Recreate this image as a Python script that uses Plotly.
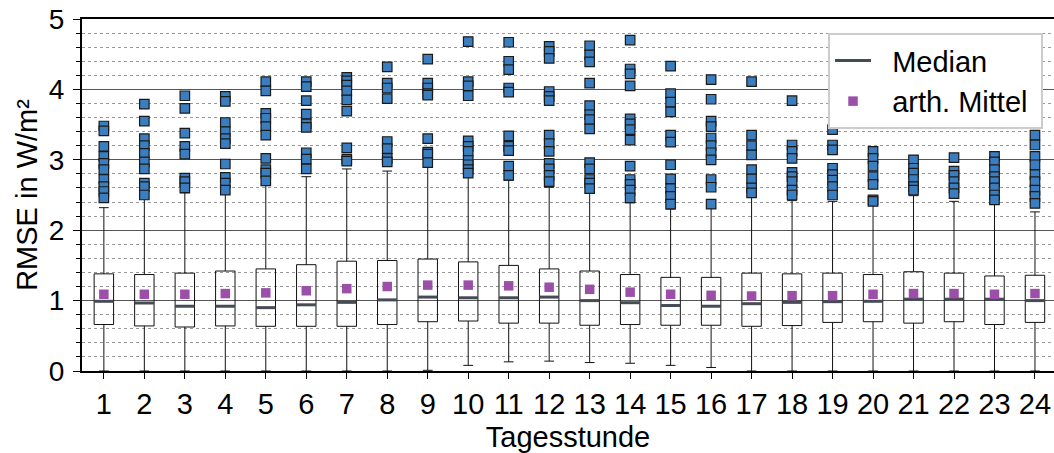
import plotly.graph_objects as go

hours = list(range(1, 25))
q1 = [0.66, 0.64, 0.625, 0.64, 0.635, 0.635, 0.635, 0.66, 0.70, 0.71, 0.68, 0.68,
      0.65, 0.66, 0.65, 0.65, 0.635, 0.645, 0.69, 0.70, 0.68, 0.70, 0.66, 0.69]
median = [0.99, 0.966, 0.92, 0.92, 0.90, 0.94, 0.975, 1.01, 1.05, 1.04, 1.04, 1.05,
          1.00, 0.97, 0.93, 0.92, 0.956, 0.975, 0.985, 0.99, 1.02, 1.02, 1.02, 1.00]
q3 = [1.38, 1.37, 1.39, 1.42, 1.45, 1.51, 1.56, 1.57, 1.59, 1.55, 1.50, 1.45,
      1.42, 1.37, 1.33, 1.33, 1.39, 1.38, 1.39, 1.37, 1.41, 1.39, 1.35, 1.36]
mean = [1.09, 1.09, 1.09, 1.10, 1.11, 1.14, 1.17, 1.20, 1.22, 1.22, 1.21, 1.19,
        1.16, 1.12, 1.09, 1.075, 1.065, 1.07, 1.07, 1.09, 1.10, 1.10, 1.09, 1.10]
lower_whisker = [0.0, 0.0, 0.0, 0.0, 0.0, 0.0, 0.0, 0.0, 0.01, 0.08, 0.13, 0.14,
                 0.12, 0.11, 0.08, 0.05, 0.0, 0.0, 0.0, 0.0, 0.0, 0.0, 0.0, 0.0]
upper_whisker = [2.32, 2.45, 2.53, 2.54, 2.65, 2.76, 2.87, 2.84, 2.93, 2.77, 2.71, 2.61,
                 2.54, 2.39, 2.30, 2.34, 2.48, 2.42, 2.41, 2.35, 2.49, 2.41, 2.38, 2.26]
outliers = [
    [3.48, 3.41, 3.19, 3.05, 2.95, 2.86, 2.72, 2.62, 2.55, 2.46],
    [3.79, 3.55, 3.30, 3.20, 3.09, 2.97, 2.87, 2.67, 2.62, 2.50],
    [3.91, 3.73, 3.38, 3.19, 3.08, 2.74, 2.69, 2.60],
    [3.90, 3.83, 3.53, 3.40, 3.30, 3.23, 2.94, 2.75, 2.67, 2.57],
    [4.11, 3.98, 3.66, 3.59, 3.47, 3.35, 3.02, 2.86, 2.81, 2.70],
    [4.11, 4.04, 3.84, 3.65, 3.51, 3.46, 3.10, 3.01, 2.87],
    [4.17, 4.12, 4.06, 3.98, 3.85, 3.69, 3.17, 3.01, 2.98],
    [4.32, 4.09, 4.02, 3.87, 3.26, 3.16, 3.02, 2.97],
    [4.43, 4.09, 4.02, 3.94, 3.92, 3.30, 3.11, 3.08, 2.96],
    [4.68, 4.11, 4.05, 3.91, 3.27, 3.19, 3.12, 2.99, 2.93, 2.86, 2.81],
    [4.67, 4.40, 4.28, 4.02, 3.96, 3.34, 3.19, 3.13, 2.91, 2.78],
    [4.61, 4.54, 4.44, 3.97, 3.90, 3.84, 3.35, 3.23, 3.12, 2.95, 2.87, 2.78, 2.69],
    [4.62, 4.49, 4.39, 4.09, 3.77, 3.64, 3.57, 3.44, 2.96, 2.87, 2.72, 2.67, 2.59],
    [4.70, 4.29, 4.22, 4.05, 3.58, 3.51, 3.43, 3.28, 2.91, 2.72, 2.65, 2.57, 2.46],
    [4.33, 3.94, 3.82, 3.68, 3.35, 3.25, 2.93, 2.73, 2.59, 2.48, 2.37],
    [4.14, 3.86, 3.55, 3.47, 3.31, 3.20, 3.10, 3.00, 2.72, 2.61, 2.37],
    [4.11, 3.35, 3.20, 3.07, 2.86, 2.73, 2.60, 2.53],
    [3.84, 3.21, 3.12, 3.02, 2.82, 2.76, 2.69, 2.57, 2.50],
    [3.43, 3.21, 3.14, 2.88, 2.79, 2.71, 2.62, 2.50],
    [3.12, 3.02, 2.91, 2.76, 2.65, 2.43, 2.41],
    [3.00, 2.88, 2.81, 2.72, 2.62, 2.57],
    [3.03, 2.84, 2.78, 2.69, 2.60, 2.52],
    [3.05, 2.97, 2.86, 2.76, 2.69, 2.60, 2.50, 2.43],
    [3.35, 3.21, 3.05, 2.93, 2.79, 2.69, 2.57, 2.48, 2.38],
]
legend_names = ["Median", "arth. Mittel"]

FONT = "Liberation Sans, Arial, sans-serif"
BOX_W = 0.48
PAD = "\u00a0\u00a0"

fig = go.Figure()

fig.add_trace(go.Box(
    x=hours, q1=q1, median=median, q3=q3,
    lowerfence=lower_whisker, upperfence=upper_whisker,
    width=BOX_W, whiskerwidth=0.5,
    line=dict(color="#111111", width=1),
    fillcolor="rgba(0,0,0,0)",
    showlegend=False, hoverinfo="skip",
))

ox, oy = [], []
for h, vals in zip(hours, outliers):
    for v in vals:
        ox.append(h)
        oy.append(v)
fig.add_trace(go.Scatter(
    x=ox, y=oy, mode="markers", showlegend=False,
    marker=dict(symbol="square", size=9.5, color="#3a7ebf",
                line=dict(color="#1a1a1a", width=1.2)),
))

mx, my = [], []
for h, m in zip(hours, median):
    mx += [h - BOX_W / 2, h + BOX_W / 2, None]
    my += [m, m, None]
fig.add_trace(go.Scatter(
    x=mx, y=my, mode="lines", name=PAD + legend_names[0],
    line=dict(color="#454c56", width=3),
))

fig.add_trace(go.Scatter(
    x=hours, y=mean, mode="markers", name=PAD + legend_names[1] + "\u00a0",
    marker=dict(symbol="square", size=9.5, color="#9b4fa8"),
))

fig.update_layout(
    width=1054, height=453,
    margin=dict(l=82, r=0, t=19, b=82, autoexpand=False),
    plot_bgcolor="white", paper_bgcolor="white",
    font=dict(family=FONT, size=29, color="black"),
    boxmode="overlay",
    legend=dict(
        x=0.9887, xanchor="right", y=0.96, yanchor="top",
        bgcolor="white", bordercolor="#cccccc", borderwidth=2,
        font=dict(size=29), itemwidth=36, tracegroupgap=4,
    ),
    xaxis=dict(
        range=[0.46, 24.47], tickmode="array", tickvals=hours,
        ticktext=[str(h) for h in hours], automargin=False,
        ticks="outside", ticklen=6, tickcolor="black", tickwidth=1,
        showline=True, linecolor="black", linewidth=2, mirror=True,
        showgrid=False, zeroline=False,
        title=dict(text="Tagesstunde", font=dict(size=29), standoff=8),
        tickfont=dict(size=29),
    ),
    yaxis=dict(
        range=[0, 5], dtick=1, tick0=0, automargin=False,
        ticks="outside", ticklen=7, tickcolor="black", tickwidth=1,
        ticklabelstandoff=3,
        showline=True, linecolor="black", linewidth=2, mirror=False,
        showgrid=True, gridcolor="#555555", gridwidth=1, zeroline=False,
        minor=dict(dtick=0.2, showgrid=True, gridcolor="#999999",
                   griddash="dot", gridwidth=1, ticks="outside",
                   ticklen=4, tickcolor="black"),
        title=dict(text="RMSE in W/m²", font=dict(size=29), standoff=3),
        tickfont=dict(size=28),
    ),
)

fig.write_html(
    "out.html",
    config={"displayModeBar": False},
    post_script="document.body.style.margin='0';document.body.style.padding='0';",
)
